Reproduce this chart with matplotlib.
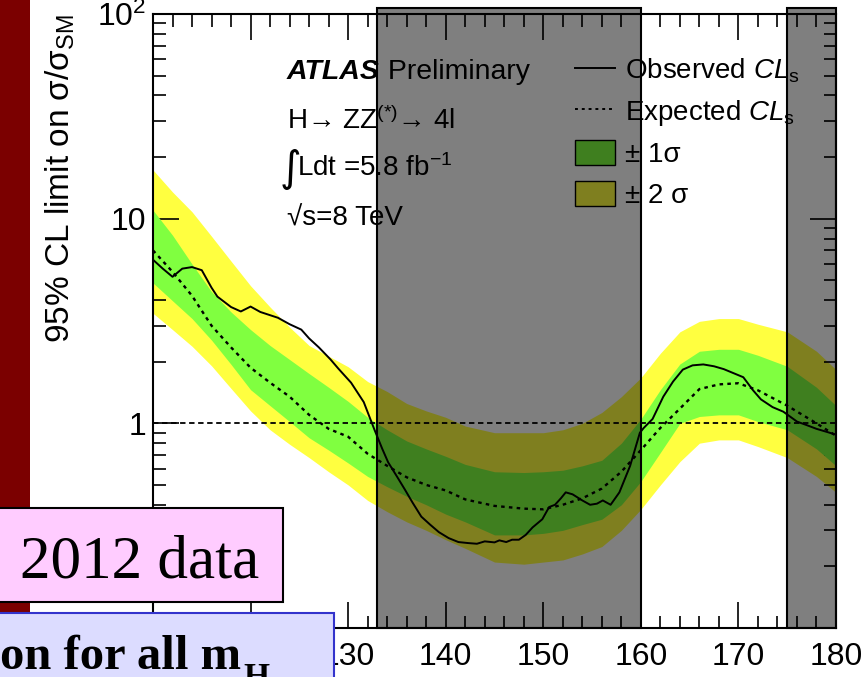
import numpy as np
import matplotlib
matplotlib.use("Agg")
import matplotlib.pyplot as plt
from matplotlib.patches import Rectangle, Patch
from matplotlib.lines import Line2D
from matplotlib.ticker import MultipleLocator, LogLocator, FuncFormatter, NullFormatter

plt.rcParams['font.family'] = ['Liberation Sans', 'DejaVu Sans']
plt.rcParams['mathtext.fontset'] = 'custom'
plt.rcParams['mathtext.rm'] = 'Liberation Sans'
plt.rcParams['mathtext.it'] = 'Liberation Sans:italic'
plt.rcParams['mathtext.bf'] = 'Liberation Sans:bold'

# expected limit and bands (m_H in GeV)
mass = [110, 112, 114, 116, 118, 120, 122, 124, 126, 128, 130, 132, 134, 136, 138,
        140, 142, 145, 148, 150, 152, 154, 156, 158, 160, 162, 164, 166, 168, 170,
        172, 175, 178, 180]
expected = [7.0, 5.5, 4.2, 3.0, 2.35, 1.87, 1.58, 1.35, 1.1, 0.94, 0.86, 0.71, 0.62,
            0.545, 0.5, 0.47, 0.425, 0.395, 0.383, 0.38, 0.40, 0.43, 0.48, 0.58,
            0.74, 0.95, 1.18, 1.47, 1.55, 1.57, 1.45, 1.22, 1.0, 0.87]
sig1_hi = [11.0, 8.3, 6.0, 4.4, 3.5, 2.87, 2.4, 2.05, 1.75, 1.5, 1.28, 1.07, 0.93,
           0.82, 0.75, 0.69, 0.63, 0.58, 0.575, 0.58, 0.59, 0.62, 0.66, 0.8,
           1.05, 1.46, 1.95, 2.25, 2.3, 2.3, 2.15, 1.9, 1.5, 1.22]
sig1_lo = [4.85, 3.97, 3.25, 2.55, 1.94, 1.46, 1.22, 1.02, 0.85, 0.74, 0.64, 0.55,
           0.49, 0.44, 0.40, 0.36, 0.33, 0.285, 0.285, 0.29, 0.30, 0.32, 0.34, 0.4,
           0.52, 0.72, 1.0, 1.08, 1.1, 1.1, 1.02, 0.93, 0.75, 0.62]
sig2_hi = [17.3, 13.5, 10.8, 8.2, 6.2, 4.7, 3.7, 2.95, 2.4, 2.13, 1.89, 1.6, 1.43,
           1.25, 1.15, 1.07, 0.97, 0.9, 0.9, 0.9, 0.93, 1.0, 1.13, 1.35, 1.67, 2.2,
           2.8, 3.15, 3.25, 3.25, 3.05, 2.8, 2.25, 1.83]
sig2_lo = [3.45, 2.87, 2.38, 1.91, 1.48, 1.15, 0.93, 0.79, 0.68, 0.58, 0.5, 0.42,
           0.37, 0.33, 0.30, 0.27, 0.245, 0.21, 0.205, 0.21, 0.215, 0.23, 0.25, 0.3,
           0.38, 0.5, 0.65, 0.8, 0.83, 0.83, 0.77, 0.68, 0.55, 0.46]

# observed limit
obs_mass = [110, 111, 112, 113, 114, 115, 116, 116.6, 118, 119, 120, 121, 122.8, 124,
            125.2, 126, 127, 128.2, 129, 130.3, 131.6, 132.7, 133.5, 134.1, 135,
            135.8, 136.6, 137.5, 138.4, 139.3, 140.3, 141.3, 142.3, 143.2, 144,
            145, 145.5, 146.2, 146.8, 147.5, 148.2, 148.9, 149.9, 150.6, 151.2,
            151.8, 152.3, 153, 154, 154.8, 155.5, 156.1, 156.9, 157.8, 158.9,
            159.9, 160.3, 161.2, 162.3, 163.3, 164.3, 165.3, 166.4, 167.5, 168.5,
            170.5, 171.5, 172.3, 173.5, 174.6, 176, 177, 178, 179, 180]
observed = [6.3, 5.7, 5.2, 5.7, 5.8, 5.6, 4.6, 4.16, 3.7, 3.52, 3.72, 3.5, 3.28, 3.05,
            2.87, 2.6, 2.35, 2.05, 1.85, 1.58, 1.27, 0.93, 0.75, 0.645, 0.55, 0.476,
            0.41, 0.35, 0.32, 0.294, 0.275, 0.263, 0.26, 0.258, 0.265, 0.262,
            0.268, 0.263, 0.27, 0.27, 0.285, 0.31, 0.34, 0.39, 0.40, 0.43, 0.46,
            0.45, 0.42, 0.40, 0.405, 0.42, 0.40, 0.46, 0.62, 0.90, 0.95, 1.05, 1.35,
            1.6, 1.83, 1.92, 1.94, 1.9, 1.84, 1.68, 1.45, 1.31, 1.2, 1.14, 1.02,
            0.98, 0.94, 0.91, 0.88]

excluded = [(133, 160), (175, 180)]

fig = plt.figure(figsize=(8.64, 6.77), dpi=100)
fig.patch.set_facecolor("white")

# slide decorations
fig.patches.append(Rectangle((0, 0), 30 / 864, 1, transform=fig.transFigure,
                             facecolor="#7b0000", edgecolor="none", zorder=0.5))

ax = fig.add_axes([153 / 864, 1 - 628 / 677, 683 / 864, 614 / 677])
ax.set_facecolor("none")

ax.fill_between(mass, sig2_lo, sig2_hi, color="#ffff40", lw=0, zorder=1)
ax.fill_between(mass, sig1_lo, sig1_hi, color="#80ff40", lw=0, zorder=2)
ax.axhline(1, color="black", lw=1.3, ls=(0, (3, 2)), zorder=3)
ax.plot(mass, expected, color="black", lw=1.7, ls=(0, (1.5, 1.8)), zorder=4)
ax.plot(obs_mass, observed, color="black", lw=1.4, zorder=4)

ax.set_yscale("log")
ax.set_xlim(110, 180)
ax.set_ylim(0.1, 100)

ax.xaxis.set_major_locator(MultipleLocator(10))
ax.xaxis.set_minor_locator(MultipleLocator(2))
ax.yaxis.set_major_locator(LogLocator(base=10, numticks=10))
ax.yaxis.set_minor_locator(LogLocator(base=10, subs=np.arange(2, 10), numticks=20))
ax.yaxis.set_minor_formatter(NullFormatter())


def yfmt(v, pos):
    if abs(v - 1) < 1e-6:
        return "1"
    if abs(v - 10) < 1e-6:
        return "10"
    if abs(v - 100) < 1e-6:
        return r"$10^{2}$"
    return ""


def xfmt(v, pos):
    # labels under the slide boxes are hidden in the original
    if v < 125:
        return ""
    return "%d" % v


ax.yaxis.set_major_formatter(FuncFormatter(yfmt))
ax.xaxis.set_major_formatter(FuncFormatter(xfmt))
ax.tick_params(which="both", direction="in", top=True, right=True, width=1.2)
ax.tick_params(which="major", length=19)
ax.tick_params(which="minor", length=9)
ax.tick_params(axis="x", labelsize=23, pad=10)
ax.tick_params(axis="y", labelsize=23, pad=5)
for s in ax.spines.values():
    s.set_linewidth(1.5)

ax.set_ylabel("95% CL limit on σ/σ$_{\\mathrm{SM}}$", fontsize=24, loc="top")
ax.yaxis.set_label_coords(-0.112, 1.0)

# ATLAS label
t1 = ax.text(0.196, 0.894, "ATLAS", transform=ax.transAxes, fontsize=20.5,
             fontweight="bold", fontstyle="italic", va="baseline")
ax.annotate(" Preliminary", xy=(1, 0), xycoords=t1, fontsize=20.5, va="bottom")
ax.text(0.196, 0.813, "H→ ZZ$^{(*)}$→ 4l",
        transform=ax.transAxes, fontsize=20, va="baseline")
ax.text(0.186, 0.728, "∫", transform=ax.transAxes, fontsize=30,
        va="baseline", family="DejaVu Sans")
ax.text(0.211, 0.736, "Ldt =5.8 fb$^{-1}$", transform=ax.transAxes,
        fontsize=20, va="baseline")
ax.text(0.196, 0.656, "√s=8 TeV",
        transform=ax.transAxes, fontsize=20, va="baseline")

handles = [Line2D([], [], color="black", lw=1.4),
           Line2D([], [], color="black", lw=1.4, ls=(0, (1.5, 2))),
           Patch(facecolor="#80ff40", edgecolor="black", lw=1),
           Patch(facecolor="#ffff40", edgecolor="black", lw=1)]
labels = [r"Observed $\mathit{CL}_{\mathrm{s}}$", r"Expected $\mathit{CL}_{\mathrm{s}}$",
          "± 1σ", "± 2 σ"]
leg = ax.legend(handles, labels, loc="upper left", bbox_to_anchor=((575 - 153) / 683, 0.93),
                frameon=False, fontsize=20, handlelength=1.45, handleheight=1.0,
                handletextpad=0.35, labelspacing=0.45, borderpad=0, borderaxespad=0)
leg.set_zorder(6)

# excluded-region overlays
for lo, hi in excluded:
    ax.add_patch(Rectangle((lo, 0), hi - lo, 1.009, transform=ax.get_xaxis_transform(),
                           facecolor="black", alpha=0.5, edgecolor="none",
                           clip_on=False, zorder=10))
    ax.add_patch(Rectangle((lo, 0), hi - lo, 1.009, transform=ax.get_xaxis_transform(),
                           facecolor="none", edgecolor="black", lw=1.5,
                           clip_on=False, zorder=11))

# slide boxes
fig.patches.append(Rectangle((-0.01, 1 - 602 / 677), 283 / 864 + 0.01, 94 / 677,
                             transform=fig.transFigure, facecolor="#ffccff",
                             edgecolor="black", lw=1.5, zorder=20))
fig.text(20 / 864, 1 - 578 / 677, "2012 data", family="Liberation Serif",
         fontsize=44, va="baseline", zorder=21)
fig.patches.append(Rectangle((-0.01, -0.05), 334 / 864 + 0.01, 64 / 677 + 0.05,
                             transform=fig.transFigure, facecolor="#dcdcff",
                             edgecolor="#3333cc", lw=1.5, zorder=20))
fig.text(0.0, 8 / 677, "on for all m", family="Liberation Serif",
         fontweight="bold", fontsize=35, va="baseline", zorder=21)
fig.text(243 / 864, 1 - 662 / 677, "H", family="Liberation Serif",
         fontweight="bold", fontsize=24, va="top", zorder=21)

fig.savefig("out.png", dpi=100)
